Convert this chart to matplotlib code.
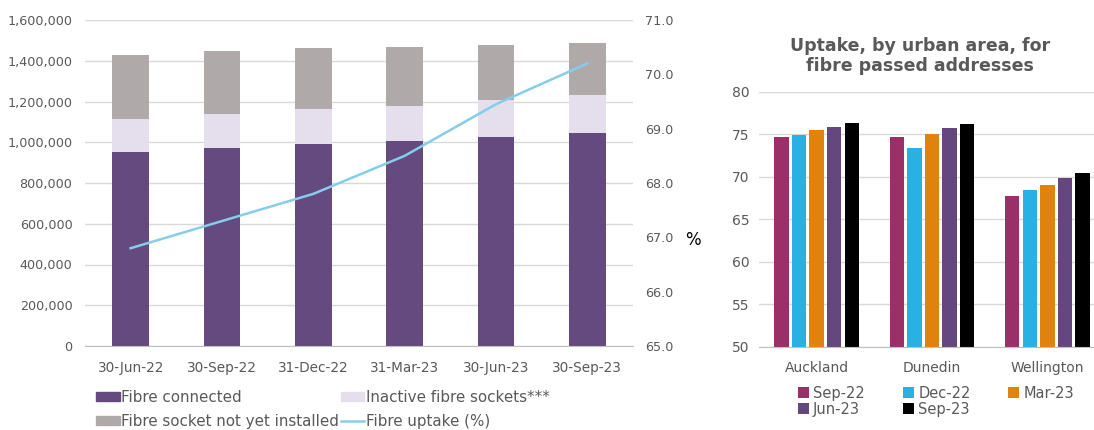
import matplotlib
matplotlib.use("Agg")
import matplotlib.pyplot as plt
import numpy as np
from matplotlib.patches import Patch
from matplotlib.lines import Line2D

# left chart data
dates = ["30-Jun-22", "30-Sep-22", "31-Dec-22", "31-Mar-23", "30-Jun-23", "30-Sep-23"]
connected = [950000, 973000, 993000, 1007000, 1027000, 1043000]
inactive = [162000, 168000, 171000, 173000, 178000, 190000]
not_installed = [318000, 306000, 300000, 289000, 271000, 254000]
uptake = [66.8, 67.3, 67.8, 68.5, 69.45, 70.2]

# right chart data
areas = ["Auckland", "Dunedin", "Wellington"]
periods = ["Sep-22", "Dec-22", "Mar-23", "Jun-23", "Sep-23"]
area_uptake = [
    [74.65, 74.65, 67.7],
    [74.95, 73.4, 68.4],
    [75.45, 75.05, 69.0],
    [75.9, 75.75, 69.9],
    [76.3, 76.15, 70.45],
]

C_CONN = "#654A80"
C_INACT = "#E5DEEC"
C_NOTI = "#AFAAA9"
C_LINE = "#86CDEC"
PER_C = ["#9A3068", "#2AB1E4", "#E0830E", "#654780", "#000000"]
TXT = "#595959"
GRID = "#D9D9D9"

fig = plt.figure(figsize=(10.94, 4.30), dpi=100)

# ---- left: stacked bars + uptake line
ax = fig.add_axes([85 / 1094, 1 - 346 / 430, 548 / 1094, 326 / 430])
x = np.arange(len(dates))
w = 0.40
ax.bar(x, connected, w, color=C_CONN, zorder=2)
ax.bar(x, inactive, w, bottom=connected, color=C_INACT, zorder=2)
bot2 = [a + b for a, b in zip(connected, inactive)]
ax.bar(x, not_installed, w, bottom=bot2, color=C_NOTI, zorder=2)
ax.set_xlim(-0.5, len(dates) - 0.5)
ax.set_ylim(0, 1600000)
ax.set_yticks(np.arange(0, 1600001, 200000))
ax.set_yticklabels([f"{v:,}" for v in range(0, 1600001, 200000)])
ax.set_xticks(x)
ax.set_xticklabels(dates)
ax.grid(axis="y", color=GRID, lw=1, zorder=0)
for s in ["top", "right", "left"]:
    ax.spines[s].set_visible(False)
ax.spines["bottom"].set_color("#BFBFBF")
ax.tick_params(length=0, colors=TXT, labelsize=9.2)
ax.tick_params(axis="x", labelsize=9.8, pad=11)
ax.tick_params(axis="y", pad=9)

ax2 = ax.twinx()
ax2.plot(x, uptake, color=C_LINE, lw=1.8, zorder=3)
ax2.set_ylim(65, 71)
ax2.set_yticks(np.arange(65, 71.1, 1))
ax2.set_yticklabels([f"{v:.1f}" for v in np.arange(65, 71.1, 1)])
for s in ax2.spines.values():
    s.set_visible(False)
ax2.tick_params(length=0, colors=TXT, labelsize=9.2, pad=9)

handles = [
    Patch(color=C_CONN, label="Fibre connected"),
    Patch(color=C_NOTI, label="Fibre socket not yet installed"),
    Patch(color=C_INACT, label="Inactive fibre sockets***"),
    Line2D([], [], color=C_LINE, lw=1.8, label="Fibre uptake (%)"),
]
leg = fig.legend(handles=handles, ncol=2, loc="upper left",
                 bbox_to_anchor=(90 / 1094, 1 - 384 / 430), frameon=False,
                 fontsize=10.9, handlelength=1.55, handleheight=0.55,
                 handletextpad=0.12, columnspacing=0.1, labelspacing=0.6,
                 borderaxespad=0)
for t in leg.get_texts():
    t.set_color(TXT)

fig.text(693 / 1094, 1 - 240 / 430, "%", ha="center", va="center",
         fontsize=12, color="black")

# ---- right: grouped bars by urban area
axr = fig.add_axes([759 / 1094, 1 - 346.7 / 430, (1094 - 759) / 1094, 255 / 430])
xa = np.arange(len(areas))
step = 0.152
bw = 0.125
for i, p in enumerate(periods):
    axr.bar(xa + (i - 2) * step, area_uptake[i], bw, color=PER_C[i],
            label=p, zorder=2)
axr.set_xlim(-0.5, 2.405)
axr.set_ylim(50, 80)
axr.set_yticks(np.arange(50, 81, 5))
axr.set_xticks(xa)
axr.set_xticklabels(areas)
axr.grid(axis="y", color=GRID, lw=1, zorder=0)
for s in ["top", "right", "left"]:
    axr.spines[s].set_visible(False)
axr.spines["bottom"].set_color("#BFBFBF")
axr.tick_params(length=0, colors=TXT, labelsize=10)
axr.tick_params(axis="x", pad=10)
axr.tick_params(axis="y", pad=7)

# row-wise order for a 3-column legend
h, l = axr.get_legend_handles_labels()
order = [0, 3, 1, 4, 2]
legr = fig.legend([h[k] for k in order], [l[k] for k in order], ncol=3,
                  loc="upper left", bbox_to_anchor=(792 / 1094, 1 - 380 / 430),
                  frameon=False, fontsize=10.5, handlelength=0.75,
                  handleheight=0.75, handletextpad=0.3, columnspacing=2.6,
                  labelspacing=0.05, borderaxespad=0)
for t in legr.get_texts():
    t.set_color(TXT)

fig.text(920 / 1094, 1 - 56 / 430, "Uptake, by urban area, for\nfibre passed addresses",
         ha="center", va="center", fontsize=12.5, fontweight="bold",
         color=TXT, linespacing=1.15)

fig.savefig("out.png", dpi=100, facecolor="white")
